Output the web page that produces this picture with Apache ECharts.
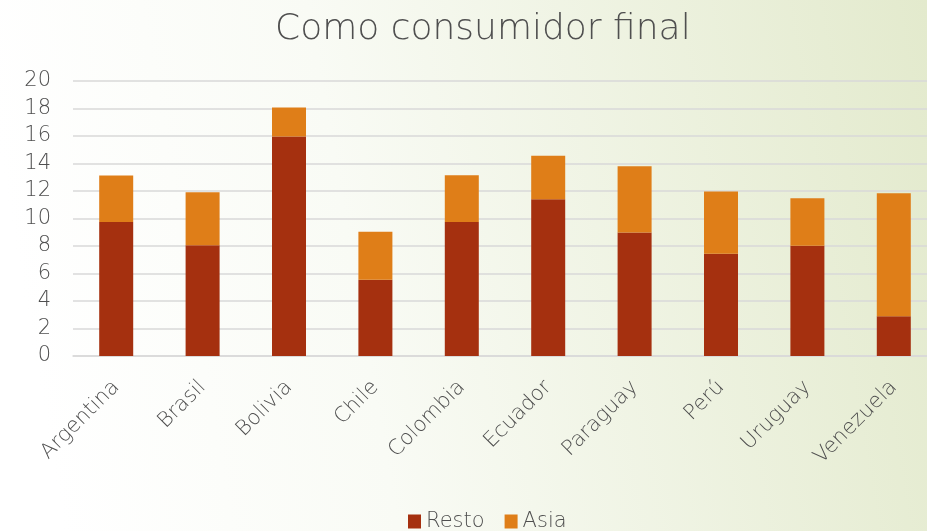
<!DOCTYPE html>
<html>
<head>
<meta charset="utf-8">
<script src="https://cdn.jsdelivr.net/npm/echarts@6/dist/echarts.min.js"></script>
<style>html,body{margin:0;padding:0;}#c{width:927px;height:531px;}</style>
</head>
<body>
<div id="c"></div>
<script>
var categories = ['Argentina','Brasil','Bolivia','Chile','Colombia','Ecuador','Paraguay','Perú','Uruguay','Venezuela'];
var resto = [9.75, 8.06, 15.96, 5.54, 9.75, 11.40, 8.98, 7.43, 8.01, 2.90];
var asia = [3.37, 3.85, 2.12, 3.49, 3.39, 3.17, 4.82, 4.53, 3.46, 8.94];
var yTicks = [0, 2, 4, 6, 8, 10, 12, 14, 16, 18, 20];

var FONT = '"DejaVu Sans"';
var W = 200;
var TXT = '#4F4F4F';
var chart = echarts.init(document.getElementById('c'));
chart.setOption({
  backgroundColor: {
    type: 'linear', x: 0, y: 0.3, x2: 1, y2: 0,
    colorStops: [
      {offset: 0, color: '#FFFFFF'},
      {offset: 0.35, color: '#F9FBF5'},
      {offset: 1, color: '#E3EACD'}
    ]
  },
  animation: false,
  title: {
    text: 'Como consumidor final',
    left: 270, top: 7,
    textStyle: {fontFamily: FONT, fontSize: 36, fontWeight: W, color: TXT}
  },
  legend: {
    data: ['Resto', 'Asia'],
    top: 506, left: 403,
    icon: 'rect', itemWidth: 13, itemHeight: 14, itemGap: 20,
    textStyle: {fontFamily: FONT, fontSize: 21, fontWeight: W, color: TXT}
  },
  grid: {left: 73, top: 81, width: 864, height: 275, containLabel: false, outerBoundsMode: 'none'},
  xAxis: {
    type: 'category', data: categories,
    axisLine: {lineStyle: {color: '#D9D9D9', width: 1.5}},
    axisTick: {show: false},
    axisLabel: {rotate: 45, interval: 0, margin: 28, fontFamily: FONT, fontSize: 21, fontWeight: W, color: TXT}
  },
  yAxis: {
    type: 'value', min: 0, max: 20, interval: 2,
    axisLine: {show: false}, axisTick: {show: false},
    splitLine: {lineStyle: {color: '#D9D9D9', width: 1.5}},
    axisLabel: {
      margin: 22, fontFamily: FONT, fontSize: 21, fontWeight: W, color: TXT,
      formatter: function (v) { return yTicks.indexOf(v) >= 0 ? String(v) : ''; }
    }
  },
  series: [
    {name: 'Resto', type: 'bar', stack: 't', data: resto, barWidth: 34,
     itemStyle: {color: '#A5300F'}},
    {name: 'Asia', type: 'bar', stack: 't', data: asia, barWidth: 34,
     itemStyle: {color: '#DF7E18'}}
  ]
});
</script>
</body>
</html>
